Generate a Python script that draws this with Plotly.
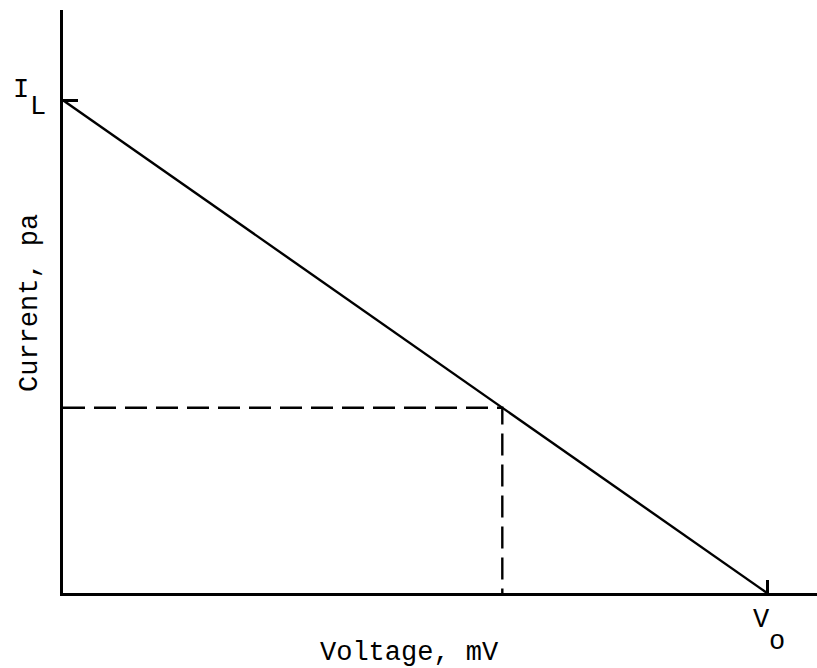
import plotly.graph_objects as go

# Load line of the cell: short-circuit current I_L, open-circuit voltage V_o
v_open = 1.0          # V_o (normalised)
i_light = 1.0         # I_L (normalised)
v_point = 0.624       # operating voltage picked on the line

line_v = [0.0, v_open]
line_i = [i_light, 0.0]
i_point = i_light * (1 - v_point / v_open)

font_family = "Liberation Mono, Courier New, monospace"

W, H = 817, 668
M_L, M_R, M_T, M_B = 63, 0, 10, 75


def px_to_paper(px, py):
    """Convert page pixel coordinates to paper coordinates."""
    return ((px - M_L) / (W - M_L - M_R), (H - M_B - py) / (H - M_B - M_T))


fig = go.Figure()

# Straight current-voltage line
fig.add_trace(go.Scatter(
    x=line_v, y=line_i, mode="lines",
    line=dict(color="black", width=2.4),
    cliponaxis=False, hoverinfo="skip", showlegend=False,
))

# Dashed guides from the operating point to both axes
fig.add_trace(go.Scatter(
    x=[0.0, v_point, v_point], y=[i_point, i_point, 0.0], mode="lines",
    line=dict(color="black", width=2.4, dash="22px,9px"),
    cliponaxis=False, hoverinfo="skip", showlegend=False,
))

xt, yt = px_to_paper(409, 653)
xc, yc = px_to_paper(30, 303)

fig.update_layout(
    width=W, height=H,
    margin=dict(l=M_L, r=M_R, t=M_T, b=M_B),
    paper_bgcolor="white", plot_bgcolor="white",
    font=dict(family=font_family, color="black", size=27),
    xaxis=dict(
        range=[0, 1.071], showgrid=False, zeroline=False,
        showline=True, linecolor="black", linewidth=3,
        tickvals=[v_open], ticktext=[""], ticks="inside",
        ticklen=13, tickwidth=3, tickcolor="black",
    ),
    yaxis=dict(
        range=[0, 1.183], showgrid=False, zeroline=False,
        showline=True, linecolor="black", linewidth=3,
        tickvals=[i_light], ticktext=[""], ticks="inside",
        ticklen=15, tickwidth=3, tickcolor="black",
    ),
    annotations=[
        dict(text="I", x=0, y=i_light, xref="x", yref="y",
             xshift=-42, yshift=10, showarrow=False),
        dict(text="L", x=0, y=i_light, xref="x", yref="y",
             xshift=-25, yshift=-7, showarrow=False),
        dict(text="V", x=v_open, y=0, xref="x", yref="y",
             xshift=-6, yshift=-27, showarrow=False),
        dict(text="o", x=v_open, y=0, xref="x", yref="y",
             xshift=10, yshift=-49, showarrow=False),
        dict(text="Voltage, mV", x=xt, y=yt, xref="paper", yref="paper",
             xanchor="center", yanchor="middle", showarrow=False),
        dict(text="Current, pa", x=xc, y=yc, textangle=-90,
             xref="paper", yref="paper", xanchor="center", yanchor="middle",
             showarrow=False),
    ],
)

fig.write_html("out.html")
